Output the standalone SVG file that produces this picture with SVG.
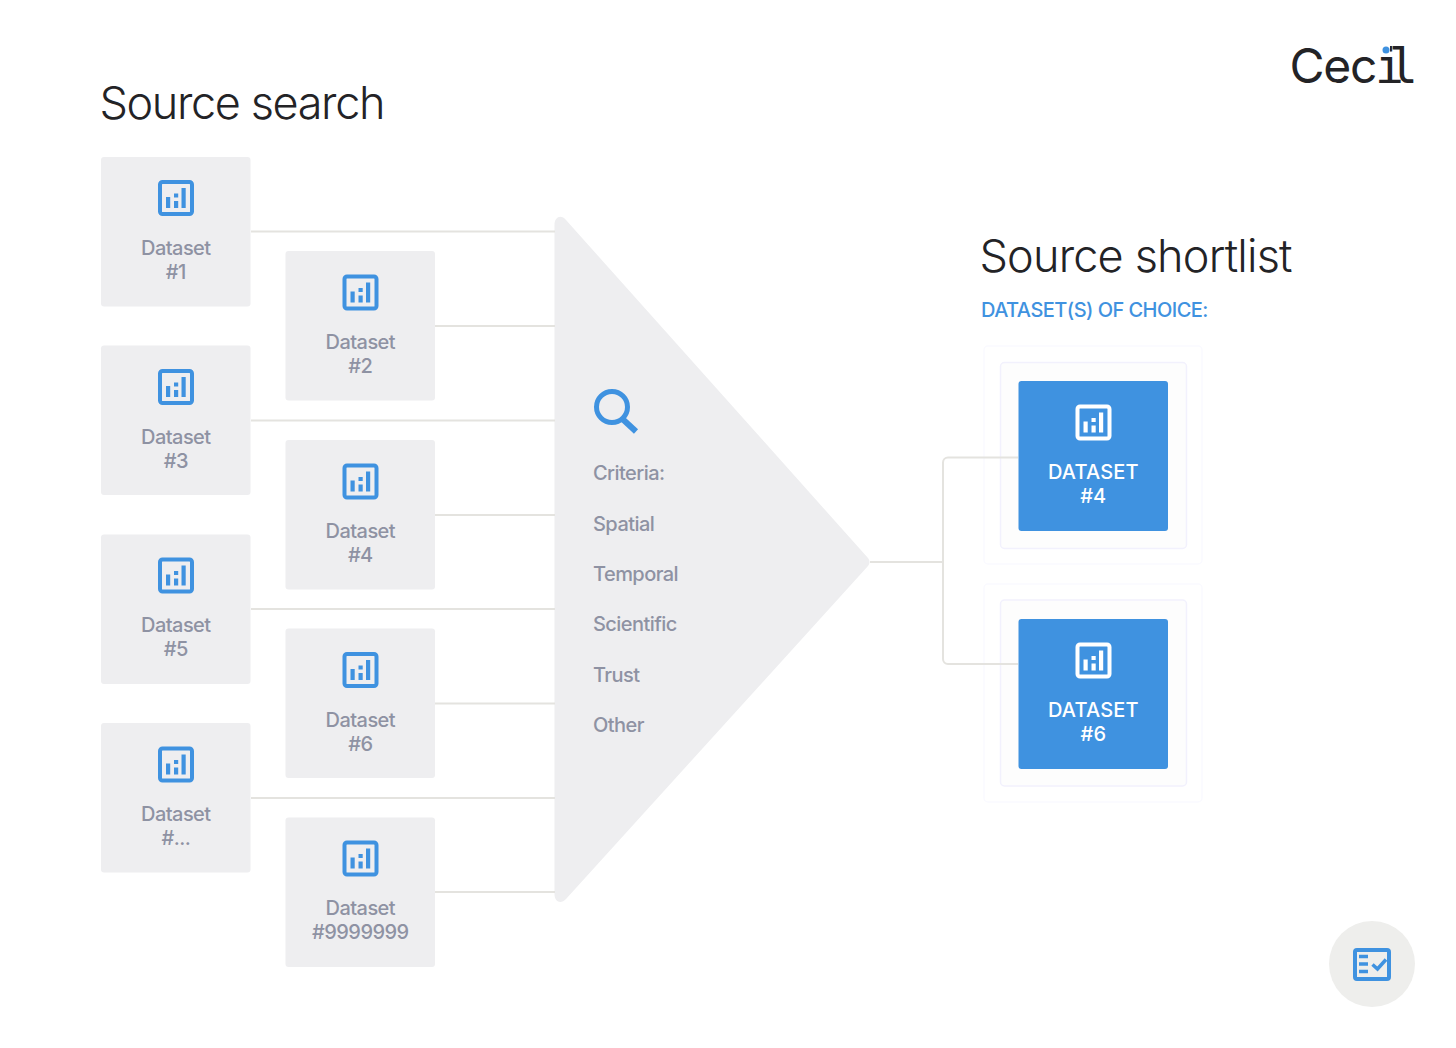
<svg xmlns="http://www.w3.org/2000/svg" width="1456" height="1048" viewBox="0 0 1456 1048">
<style>
text{font-family:Inter,"Liberation Sans",sans-serif}
.card{fill:#eeeef0}
.lbl{font-size:20px;font-weight:500;fill:#8e92a3;text-anchor:middle;letter-spacing:-.55px}
.crit{font-size:20px;font-weight:500;fill:#8e92a3;letter-spacing:-.55px}
.lblw{font-size:20px;font-weight:500;fill:#fff;text-anchor:middle;letter-spacing:.15px}
.h{font-size:45px;font-weight:300;fill:#232326}
.wire{fill:none;stroke:#e4e3df;stroke-width:2}
.halo1{fill:#fff;stroke:#fafaff;stroke-width:1.5}
.halo2{fill:#fdfdfd;stroke:#f2f1fd;stroke-width:1.5}
.blue{fill:#3f92e0}
</style>
<defs>
<g id="ico">
<rect x="2" y="2" width="32" height="32" rx="2.5" fill="none" stroke="currentColor" stroke-width="4"/>
<rect x="8" y="17" width="4.2" height="11" fill="currentColor"/>
<rect x="16" y="13.5" width="4.2" height="4" fill="currentColor"/>
<rect x="16" y="21" width="4.2" height="7" fill="currentColor"/>
<rect x="23.5" y="8" width="4.2" height="20" fill="currentColor"/>
</g>
</defs>
<rect width="1456" height="1048" fill="#fff"/>
<g id="title-search"><text class="h" x="99.500" y="119" letter-spacing="-1.38">Source search</text></g>
<g id="title-shortlist"><text class="h" x="979.500" y="272" letter-spacing="-.82">Source shortlist</text>
<text x="981" y="317" font-size="20" fill="#3f92e0" font-weight="500" letter-spacing="-.54">DATASET(S) OF CHOICE:</text></g>
<g id="logo"><text x="1289.500" y="83" font-size="48" font-weight="400" letter-spacing="-1.3" fill="#232326">Cec<tspan x="1375" font-family="'DejaVu Sans Mono',monospace" font-weight="400" font-size="48" letter-spacing="-15">il</tspan></text><rect x="1380" y="44" width="10" height="12" fill="#fff"/><circle cx="1386" cy="50" r="3.500" fill="#3f92e0"/></g>

<g id="d1" color="#3f92e0"><rect class="card" x="101" y="157" width="149.500" height="149.500" rx="3"/><use href="#ico" x="158" y="180"/><text class="lbl" x="175.800" y="255">Dataset</text><text class="lbl" x="175.800" y="279">#1</text></g>
<g id="d2" color="#3f92e0"><rect class="card" x="285.500" y="251" width="149.500" height="149.500" rx="3"/><use href="#ico" x="342.500" y="274.500"/><text class="lbl" x="360.300" y="349">Dataset</text><text class="lbl" x="360.300" y="373">#2</text></g>
<g id="d3" color="#3f92e0"><rect class="card" x="101" y="345.500" width="149.500" height="149.500" rx="3"/><use href="#ico" x="158" y="369"/><text class="lbl" x="175.800" y="444">Dataset</text><text class="lbl" x="175.800" y="468">#3</text></g>
<g id="d4" color="#3f92e0"><rect class="card" x="285.500" y="440" width="149.500" height="149.500" rx="3"/><use href="#ico" x="342.500" y="463.500"/><text class="lbl" x="360.300" y="538">Dataset</text><text class="lbl" x="360.300" y="562">#4</text></g>
<g id="d5" color="#3f92e0"><rect class="card" x="101" y="534.500" width="149.500" height="149.500" rx="3"/><use href="#ico" x="158" y="557.500"/><text class="lbl" x="175.800" y="632">Dataset</text><text class="lbl" x="175.800" y="656">#5</text></g>
<g id="d6" color="#3f92e0"><rect class="card" x="285.500" y="628.500" width="149.500" height="149.500" rx="3"/><use href="#ico" x="342.500" y="652"/><text class="lbl" x="360.300" y="727">Dataset</text><text class="lbl" x="360.300" y="751">#6</text></g>
<g id="d7" color="#3f92e0"><rect class="card" x="101" y="723" width="149.500" height="149.500" rx="3"/><use href="#ico" x="158" y="746.500"/><text class="lbl" x="175.800" y="821">Dataset</text><text class="lbl" x="175.800" y="845">#...</text></g>
<g id="d8" color="#3f92e0"><rect class="card" x="285.500" y="817.500" width="149.500" height="149.500" rx="3"/><use href="#ico" x="342.500" y="840.500"/><text class="lbl" x="360.300" y="915">Dataset</text><text class="lbl" x="360.300" y="939">#9999999</text></g>

<g id="funnel">
<path class="card" d="M554.500 225C554.500 217 561 214 566 220L868 558C870 560.500 870 563.500 868 566L566 899C561 904.500 554.500 902 554.500 894Z"/>
<g fill="none" stroke="#3f92e0"><circle cx="612" cy="407" r="15.500" stroke-width="5"/><path d="M622.500 419L636 431.500" stroke-width="6"/></g>
<text class="crit" x="593" y="480">Criteria:</text>
<text class="crit" x="593" y="531">Spatial</text>
<text class="crit" x="593" y="581">Temporal</text>
<text class="crit" x="593" y="631">Scientific</text>
<text class="crit" x="593" y="682">Trust</text>
<text class="crit" x="593" y="732">Other</text>
</g>

<g id="s4" color="#fff">
<rect class="halo1" x="984" y="346" width="218" height="218" rx="4"/>
<rect class="halo2" x="1000.500" y="362.500" width="186" height="186" rx="4"/>
<rect class="blue" x="1018.500" y="381" width="149.500" height="150" rx="3"/>
<use href="#ico" x="1075.500" y="404.500"/>
<text class="lblw" x="1093.300" y="479">DATASET</text><text class="lblw" x="1093.300" y="503">#4</text>
</g>
<g id="s6" color="#fff">
<rect class="halo1" x="984" y="584" width="218" height="218" rx="4"/>
<rect class="halo2" x="1000.500" y="600" width="186" height="186" rx="4"/>
<rect class="blue" x="1018.500" y="619" width="149.500" height="150" rx="3"/>
<use href="#ico" x="1075.500" y="642.500"/>
<text class="lblw" x="1093.300" y="717">DATASET</text><text class="lblw" x="1093.300" y="741">#6</text>
</g>

<g id="connectors">
<path class="wire" d="M251 231.500H555M435 326H555M251 420.500H555M435 515H555M251 609H555M435 703.500H555M251 798H555M435 892H555"/>
<path class="wire" d="M870 562H943"/>
<path class="wire" d="M1018 457.500H948a5 5 0 0 0-5 5V659a5 5 0 0 0 5 5H1018"/>
</g>

<g id="badge">
<circle cx="1372" cy="964" r="43" fill="#eeeeec"/>
<rect x="1355" y="950" width="34" height="29" rx="2" fill="none" stroke="#3f92e0" stroke-width="4"/>
<path d="M1359 956.500h9M1359 964h9M1359 971.500h9" stroke="#3f92e0" stroke-width="3.500" fill="none"/>
<path d="M1372.500 964.500l5 4.500 8.500-9.500" stroke="#3f92e0" stroke-width="3.500" fill="none"/>
</g>
</svg>
